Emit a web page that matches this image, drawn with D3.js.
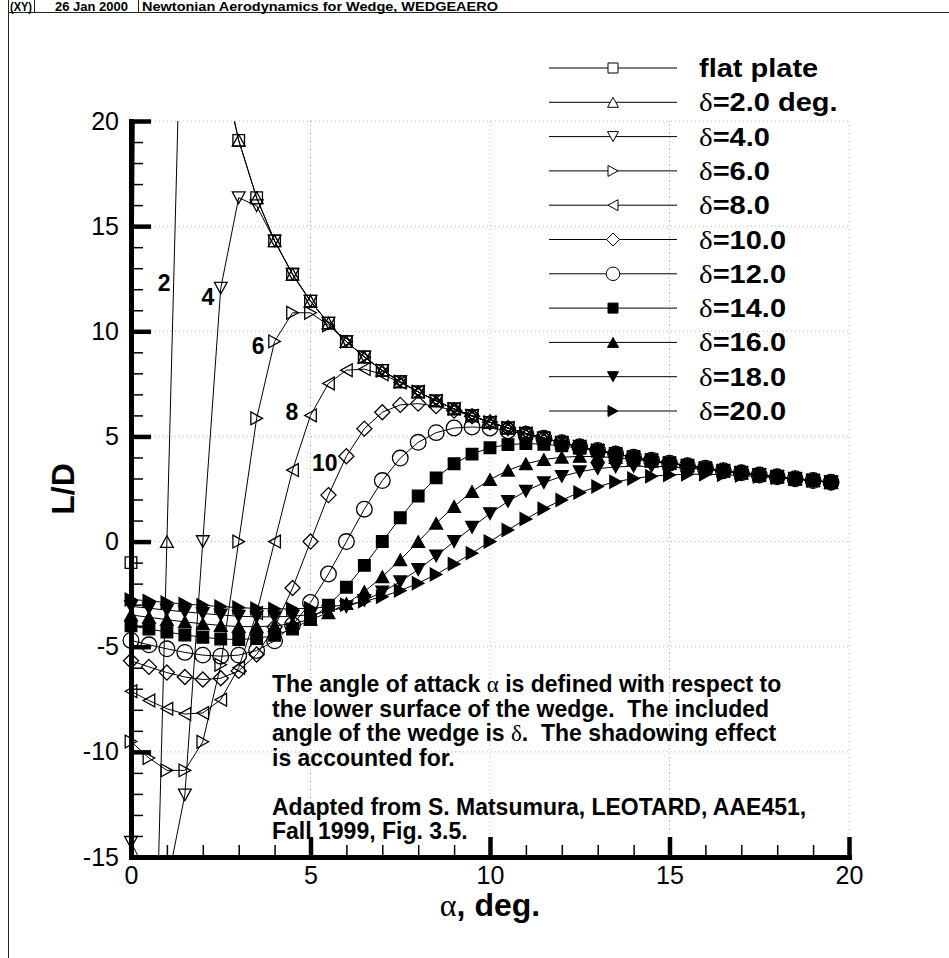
<!DOCTYPE html>
<html>
<head>
<meta charset="utf-8">
<script src="https://cdn.jsdelivr.net/npm/d3@7"></script>
<style>
body { margin: 0; background: #fff; }
text { font-family: "Liberation Sans", Arial, sans-serif; }
.sym { font-family: "Liberation Serif", "Times New Roman", serif; font-weight: normal; }
</style>
</head>
<body>
<svg id="chart" width="949" height="958"></svg>
<script>
// angle of attack, deg.
const alpha = [0, 0.5, 1, 1.5, 2, 2.5, 3, 3.5, 4, 4.5, 5, 5.5, 6, 6.5, 7, 7.5, 8, 8.5, 9, 9.5,
    10, 10.5, 11, 11.5, 12, 12.5, 13, 13.5, 14, 14.5, 15, 15.5, 16, 16.5, 17, 17.5, 18, 18.5, 19, 19.5];

// L/D for each wedge
const flatPlate = [-1.0, 114.6, 57.29, 38.19, 28.64, 22.90, 19.08, 16.35, 14.30, 12.71, 11.43, 10.39, 9.51, 8.78, 8.14, 7.60, 7.12, 6.69, 6.31, 5.98,
    5.67, 5.40, 5.14, 4.92, 4.70, 4.51, 4.33, 4.17, 4.01, 3.87, 3.73, 3.61, 3.49, 3.37, 3.27, 3.17, 3.08, 2.99, 2.90, 2.82];
const delta2 = [-28.64, -32.72, 0, 32.72, 28.64, 22.90, 19.08, 16.35, 14.30, 12.71, 11.43, 10.39, 9.51, 8.78, 8.14, 7.60, 7.12, 6.69, 6.31, 5.98,
    5.67, 5.40, 5.14, 4.92, 4.70, 4.51, 4.33, 4.17, 4.01, 3.87, 3.73, 3.61, 3.49, 3.37, 3.27, 3.17, 3.08, 2.99, 2.90, 2.82];
const delta4 = [-14.30, -15.97, -16.35, -12.05, 0, 12.05, 16.35, 15.97, 14.30, 12.71, 11.43, 10.39, 9.51, 8.78, 8.14, 7.60, 7.12, 6.69, 6.31, 5.98,
    5.67, 5.40, 5.14, 4.92, 4.70, 4.51, 4.33, 4.17, 4.01, 3.87, 3.73, 3.61, 3.49, 3.37, 3.27, 3.17, 3.08, 2.99, 2.90, 2.82];
const delta6 = [-9.51, -10.29, -10.88, -10.88, -9.52, -5.86, 0, 5.86, 9.52, 10.88, 10.88, 10.29, 9.51, 8.78, 8.14, 7.60, 7.12, 6.69, 6.31, 5.98,
    5.67, 5.40, 5.14, 4.92, 4.70, 4.51, 4.33, 4.17, 4.01, 3.87, 3.73, 3.61, 3.49, 3.37, 3.27, 3.17, 3.08, 2.99, 2.90, 2.82];
const delta8 = [-7.12, -7.56, -7.95, -8.20, -8.15, -7.52, -6.00, -3.40, 0, 3.40, 6.00, 7.52, 8.15, 8.20, 7.95, 7.56, 7.12, 6.69, 6.31, 5.98,
    5.67, 5.40, 5.14, 4.92, 4.70, 4.51, 4.33, 4.17, 4.01, 3.87, 3.73, 3.61, 3.49, 3.37, 3.27, 3.17, 3.08, 2.99, 2.90, 2.82];
const delta10 = [-5.67, -5.96, -6.23, -6.44, -6.56, -6.50, -6.15, -5.37, -4.06, -2.21, 0, 2.21, 4.06, 5.37, 6.15, 6.50, 6.56, 6.44, 6.23, 5.96,
    5.67, 5.40, 5.14, 4.92, 4.70, 4.51, 4.33, 4.17, 4.01, 3.87, 3.73, 3.61, 3.49, 3.37, 3.27, 3.17, 3.08, 2.99, 2.90, 2.82];
const delta12 = [-4.70, -4.91, -5.10, -5.27, -5.40, -5.45, -5.40, -5.18, -4.72, -3.97, -2.90, -1.54, 0, 1.54, 2.90, 3.97, 4.72, 5.18, 5.40, 5.45,
    5.40, 5.27, 5.10, 4.91, 4.70, 4.51, 4.33, 4.17, 4.01, 3.87, 3.73, 3.61, 3.49, 3.37, 3.27, 3.17, 3.08, 2.99, 2.90, 2.82];
const delta14 = [-4.01, -4.16, -4.30, -4.44, -4.55, -4.63, -4.66, -4.61, -4.46, -4.16, -3.70, -3.03, -2.17, -1.13, 0, 1.13, 2.17, 3.03, 3.70, 4.16,
    4.46, 4.61, 4.66, 4.63, 4.55, 4.44, 4.30, 4.16, 4.01, 3.87, 3.73, 3.61, 3.49, 3.37, 3.27, 3.17, 3.08, 2.99, 2.90, 2.82];
const delta16 = [-3.49, -3.60, -3.71, -3.82, -3.91, -3.99, -4.04, -4.05, -4.01, -3.90, -3.70, -3.39, -2.95, -2.38, -1.67, -0.87, 0, 0.87, 1.67, 2.38,
    2.95, 3.39, 3.70, 3.90, 4.01, 4.05, 4.04, 3.99, 3.91, 3.82, 3.71, 3.60, 3.49, 3.37, 3.27, 3.17, 3.08, 2.99, 2.90, 2.82];
const delta18 = [-3.08, -3.17, -3.26, -3.34, -3.42, -3.49, -3.55, -3.58, -3.58, -3.55, -3.47, -3.32, -3.10, -2.80, -2.40, -1.91, -1.33, -0.68, 0, 0.68,
    1.33, 1.91, 2.40, 2.80, 3.10, 3.32, 3.47, 3.55, 3.58, 3.58, 3.55, 3.49, 3.42, 3.34, 3.26, 3.17, 3.08, 2.99, 2.90, 2.82];
const delta20 = [-2.75, -2.82, -2.90, -2.97, -3.03, -3.09, -3.14, -3.18, -3.20, -3.20, -3.17, -3.11, -3.00, -2.84, -2.62, -2.33, -1.98, -1.56, -1.07, -0.55,
    0, 0.55, 1.07, 1.56, 1.98, 2.33, 2.62, 2.84, 3.00, 3.11, 3.17, 3.20, 3.20, 3.18, 3.14, 3.09, 3.03, 2.97, 2.90, 2.82];

const seriesNames = ["flat plate", "δ=2.0 deg.", "δ=4.0", "δ=6.0", "δ=8.0", "δ=10.0",
    "δ=12.0", "δ=14.0", "δ=16.0", "δ=18.0", "δ=20.0"];
const seriesValues = [flatPlate, delta2, delta4, delta6, delta8, delta10, delta12, delta14, delta16, delta18, delta20];

const xMajor = [0, 5, 10, 15, 20];
const yMajor = [-15, -10, -5, 0, 5, 10, 15, 20];
const curveLabels = ["2", "4", "6", "8", "10"];

const headerTexts = ["(XY)", "26 Jan 2000", "Newtonian Aerodynamics for Wedge, WEDGEAERO"];
const noteLines = [
    "The angle of attack α is defined with respect to",
    "the lower surface of the wedge.  The included",
    "angle of the wedge is δ.  The shadowing effect",
    "is accounted for.",
    "",
    "Adapted from S. Matsumura, LEOTARD, AAE451,",
    "Fall 1999, Fig. 3.5."
];

// ---- styles for the maps
const markerTypes = ["square", "triUp", "triDown", "triRight", "triLeft", "diamond", "circle",
    "square", "triUp", "triDown", "triRight"];
const markerFilled = [false, false, false, false, false, false, false, true, true, true, true];

function markerPath(type, s) {
    const w = s * 1.1, r = s * 1.3, c = s * 1.35;
    switch (type) {
        case "square": return `M${-s},${-s}H${s}V${s}H${-s}Z`;
        case "triUp": return `M0,${-s}L${w},${s}L${-w},${s}Z`;
        case "triDown": return `M0,${s}L${w},${-s}L${-w},${-s}Z`;
        case "triRight": return `M${s},0L${-s},${w}L${-s},${-w}Z`;
        case "triLeft": return `M${-s},0L${s},${w}L${s},${-w}Z`;
        case "diamond": return `M0,${-r}L${r},0L0,${r}L${-r},0Z`;
        case "circle": return `M${c},0A${c},${c} 0 1,1 ${-c},0A${c},${c} 0 1,1 ${c},0Z`;
    }
}

// write a string, putting greek letters in the symbol (serif) face
function greekText(sel, str) {
    str.split(/([αδ])/).forEach(part => {
        if (part === "") return;
        const t = sel.append("tspan").text(part);
        if (part === "α" || part === "δ") t.attr("class", "sym");
    });
}

const svg = d3.select("#chart");

// ---- page frame / header
svg.append("line").attr("x1", 8).attr("x2", 949).attr("y1", 12.5).attr("y2", 12.5).attr("stroke", "#222").attr("stroke-width", 1);
svg.append("line").attr("x1", 8.5).attr("x2", 8.5).attr("y1", 0).attr("y2", 958).attr("stroke", "#222").attr("stroke-width", 1);
[34.5, 138.5].forEach(px => {
    svg.append("line").attr("x1", px).attr("x2", px).attr("y1", 0).attr("y2", 12.5).attr("stroke", "#222");
});
const headerX = [10, 55, 142];
const headerW = [22, 73, 356];
headerTexts.forEach((s, i) => {
    svg.append("text").attr("x", headerX[i]).attr("y", 11)
        .attr("font-size", 12).attr("font-weight", "bold")
        .attr("textLength", headerW[i]).attr("lengthAdjust", "spacingAndGlyphs")
        .text(s);
});

// ---- scales
const x = d3.scaleLinear().domain([0, 20]).range([131, 849]);
const y = d3.scaleLinear().domain([-15, 20]).range([857, 121]);

// dotted grid at major ticks
const grid = svg.append("g").attr("stroke", "#bbb").attr("stroke-width", 1).attr("stroke-dasharray", "1,3");
xMajor.slice(1).forEach(v => {
    grid.append("line").attr("x1", x(v)).attr("x2", x(v)).attr("y1", y(20)).attr("y2", y(-15));
});
yMajor.slice(1).forEach(v => {
    grid.append("line").attr("x1", x(0)).attr("x2", x(20)).attr("y1", y(v)).attr("y2", y(v));
});

// ---- curves
svg.append("clipPath").attr("id", "plotClip")
    .append("rect").attr("x", x(0)).attr("y", y(20)).attr("width", x(20) - x(0)).attr("height", y(-15) - y(20));

const line = d3.line()
    .x((d, i) => x(alpha[i]))
    .y(d => y(d));

seriesValues.forEach((vals, k) => {
    svg.append("path")
        .datum(vals)
        .attr("clip-path", "url(#plotClip)")
        .attr("fill", "none")
        .attr("stroke", "#000")
        .attr("stroke-width", 1)
        .attr("d", line);

    const pts = vals.map((v, i) => [alpha[i], v]).filter(p => p[1] >= -15 && p[1] <= 20);
    svg.append("g").selectAll("path")
        .data(pts)
        .join("path")
        .attr("transform", p => `translate(${x(p[0])},${y(p[1])})`)
        .attr("d", markerPath(markerTypes[k], 5.8))
        .attr("fill", markerFilled[k] ? "#000" : "none")
        .attr("stroke", "#000")
        .attr("stroke-width", 1.3);
});

// ---- axes
function styleAxis(g, major) {
    g.attr("font-family", null).attr("font-size", null);
    g.select(".domain").attr("stroke-width", 5).attr("stroke-linecap", "square");
    g.selectAll(".tick line").attr("stroke-width", major ? 4.5 : 1.5);
    g.selectAll(".tick text").attr("font-size", 25).attr("fill", "#000");
}

const xMinor = d3.range(0, 21).filter(v => v % 5 !== 0);
const yMinor = d3.range(-15, 21).filter(v => v % 5 !== 0);
const plainNum = d => String(d);

svg.append("g").attr("transform", `translate(0,${y(-15)})`)
    .call(d3.axisBottom(x).tickValues(xMinor).tickSize(-12).tickFormat(""))
    .call(g => g.select(".domain").remove())
    .call(g => styleAxis(g, false));
svg.append("g").attr("transform", `translate(${x(0)},0)`)
    .call(d3.axisLeft(y).tickValues(yMinor).tickSize(-12).tickFormat(""))
    .call(g => g.select(".domain").remove())
    .call(g => styleAxis(g, false));

svg.append("g").attr("transform", `translate(0,${y(-15)})`)
    .call(d3.axisBottom(x).tickValues(xMajor).tickFormat(plainNum).tickSizeInner(-20).tickSizeOuter(0).tickPadding(9))
    .call(g => styleAxis(g, true));
svg.append("g").attr("transform", `translate(${x(0)},0)`)
    .call(d3.axisLeft(y).tickValues(yMajor).tickFormat(plainNum).tickSizeInner(-20).tickSizeOuter(0).tickPadding(12))
    .call(g => styleAxis(g, true));

// axis titles
svg.append("text")
    .attr("transform", `translate(74,${(y(20) + y(-15)) / 2}) rotate(-90)`)
    .attr("text-anchor", "middle")
    .attr("font-size", 32).attr("font-weight", "bold")
    .text("L/D");
const xt = svg.append("text")
    .attr("x", (x(0) + x(20)) / 2).attr("y", 916)
    .attr("text-anchor", "middle")
    .attr("font-size", 32).attr("font-weight", "bold");
greekText(xt, "α, deg.");

// ---- curve labels (delta values)
const labelAt = [[0.92, 12.3], [2.14, 11.64], [3.54, 9.31], [4.48, 6.18], [5.40, 3.75]];
curveLabels.forEach((t, i) => {
    svg.append("text")
        .attr("x", x(labelAt[i][0])).attr("y", y(labelAt[i][1]))
        .attr("dy", "0.36em")
        .attr("text-anchor", "middle")
        .attr("font-size", 23).attr("font-weight", "bold")
        .text(t);
});

// ---- legend (text drawn a little wide, as in the original)
const legend = svg.append("g");
seriesNames.forEach((name, k) => {
    const ly = 68 + k * 34.3;
    legend.append("line").attr("x1", 549).attr("x2", 677).attr("y1", ly).attr("y2", ly)
        .attr("stroke", "#000").attr("stroke-width", 1);
    legend.append("path")
        .attr("transform", `translate(613,${ly})`)
        .attr("d", markerPath(markerTypes[k], 5))
        .attr("fill", markerFilled[k] ? "#000" : "#fff")
        .attr("stroke", "#000");
    const t = legend.append("text")
        .attr("transform", `translate(699,${ly + 9}) scale(1.16,1)`)
        .attr("font-size", 25).attr("font-weight", "bold");
    greekText(t, name);
});

// ---- note
noteLines.forEach((s, i) => {
    const t = svg.append("text")
        .attr("x", 272).attr("y", 692 + i * 24.5)
        .attr("font-size", 23).attr("font-weight", "bold")
        .style("white-space", "pre");
    greekText(t, s);
});
</script>
</body>
</html>
